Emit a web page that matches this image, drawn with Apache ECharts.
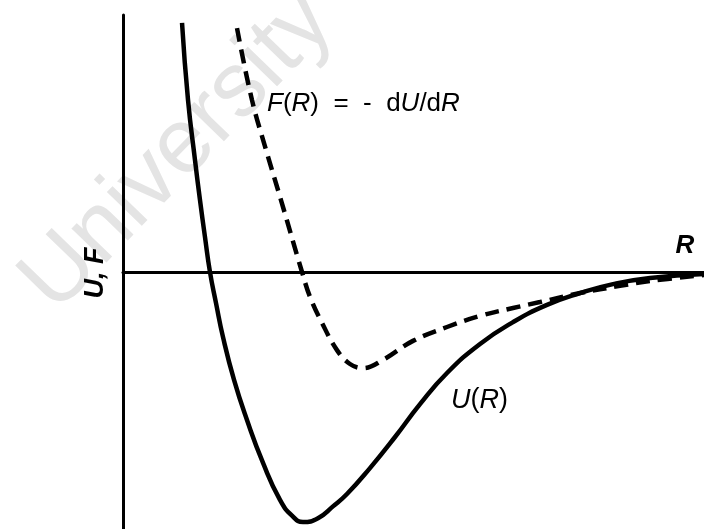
<!DOCTYPE html>
<html>
<head>
<meta charset="utf-8">
<title>Potential energy and force between two atoms</title>
<script src="https://cdn.jsdelivr.net/npm/echarts@6/dist/echarts.min.js"></script>
<style>
  html, body { margin: 0; padding: 0; background: #ffffff; }
  #chart { width: 704px; height: 529px; }
</style>
</head>
<body>
<div id="chart"></div>
<script>
// Interatomic separation R (arbitrary units) and the potential U(R)
const uR = [1.016, 1.119, 1.239, 1.325, 1.411, 1.497, 1.601, 1.721, 1.911, 2.134, 2.410, 2.702, 2.909,
            3.098, 3.356, 3.614, 3.855, 4.251, 4.682, 5.112, 5.577, 6.145, 6.713, 7.298, 7.866, 8.434,
            9.071, 10.0];
const uVal = [0.969, 0.669, 0.436, 0.280, 0.136, 0.000, -0.121, -0.253, -0.420, -0.576, -0.743, -0.887, -0.948,
              -0.973, -0.958, -0.912, -0.864, -0.763, -0.642, -0.514, -0.393, -0.280, -0.195, -0.128, -0.082, -0.047,
              -0.023, -0.008];

// Force F(R) = -dU/dR on the same separation scale
const fR = [1.962, 2.220, 2.462, 2.719, 3.081, 3.219, 3.425, 3.683, 3.907, 4.131, 4.475, 4.991,
            5.577, 6.145, 6.713, 7.177, 7.866, 8.554, 9.071, 10.0];
const fVal = [0.949, 0.669, 0.475, 0.280, 0.000, -0.097, -0.198, -0.304, -0.358, -0.374, -0.342, -0.268,
              -0.214, -0.171, -0.140, -0.117, -0.082, -0.054, -0.035, -0.012];

const FONT = '"Liberation Sans", Arial, Helvetica, sans-serif';

const pairs = (xs, ys) => xs.map((x, i) => [x, ys[i]]);

const chart = echarts.init(document.getElementById('chart'), null, { renderer: 'canvas' });

chart.setOption({
  backgroundColor: '#ffffff',
  animation: false,
  grid: { left: 123, right: 0, top: 15, bottom: 0 },
  xAxis: {
    type: 'value', min: 0, max: 10,
    axisLine: { show: true, onZero: true, lineStyle: { color: '#000', width: 3 } },
    axisTick: { show: false }, axisLabel: { show: false }, splitLine: { show: false }
  },
  yAxis: {
    type: 'value', min: -1, max: 1,
    axisLine: { show: true, lineStyle: { color: '#000', width: 3 } },
    axisTick: { show: false }, axisLabel: { show: false }, splitLine: { show: false }
  },
  graphic: [
    {
      type: 'text', z: -10, silent: true,
      x: 178, y: 152, rotation: Math.PI * 0.255,
      style: {
        text: 'University', font: 'normal 92px ' + FONT,
        fill: '#e4e4e4', align: 'center', verticalAlign: 'middle'
      }
    },
    {
      type: 'text', x: 96, y: 273, rotation: Math.PI / 2,
      style: {
        text: 'U, F', font: 'italic bold 27px ' + FONT,
        fill: '#000', align: 'center', verticalAlign: 'middle'
      }
    },
    {
      type: 'text', x: 685, y: 246,
      style: {
        text: 'R', font: 'italic bold 26px ' + FONT,
        fill: '#000', align: 'center', verticalAlign: 'middle'
      }
    },
    {
      type: 'text', x: 267, y: 104,
      style: {
        text: '{i|F}{n|(}{i|R}{n|)  =  -  d}{i|U}{n|/d}{i|R}',
        verticalAlign: 'middle',
        rich: {
          i: { font: 'italic 26px ' + FONT, fill: '#000' },
          n: { font: 'normal 26px ' + FONT, fill: '#000' }
        }
      }
    },
    {
      type: 'text', x: 451, y: 400,
      style: {
        text: '{i|U}{n|(}{i|R}{n|)}',
        verticalAlign: 'middle',
        rich: {
          i: { font: 'italic 27px ' + FONT, fill: '#000' },
          n: { font: 'normal 27px ' + FONT, fill: '#000' }
        }
      }
    }
  ],
  series: [
    {
      name: 'U(R)', type: 'line', smooth: 0.5, symbol: 'none',
      data: pairs(uR, uVal),
      lineStyle: { color: '#000', width: 4.5 }
    },
    {
      name: 'F(R)', type: 'line', smooth: 0.4, symbol: 'none',
      data: pairs(fR, fVal),
      lineStyle: { color: '#000', width: 4.5, type: [14, 8] }
    }
  ]
});
</script>
</body>
</html>
